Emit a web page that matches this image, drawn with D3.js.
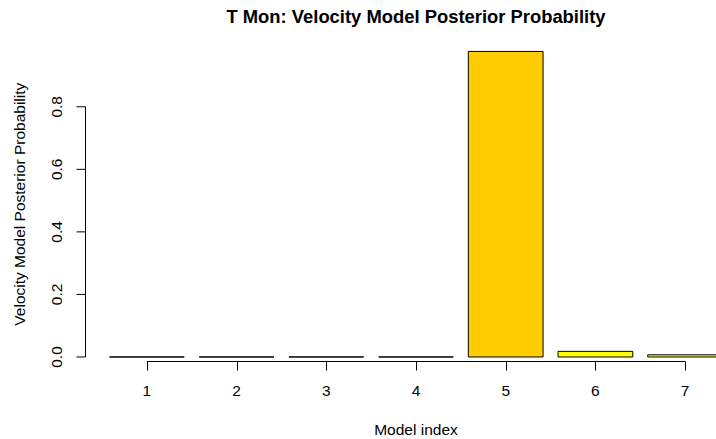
<!DOCTYPE html>
<html>
<head>
<meta charset="utf-8">
<script src="https://cdn.jsdelivr.net/npm/d3@7"></script>
<style>
  html, body { margin: 0; padding: 0; background: #fff; }
  svg { display: block; font-family: "Liberation Sans", Arial, Helvetica, sans-serif; }
</style>
</head>
<body>
<svg id="chart" width="716" height="439"></svg>
<script>
// Posterior probability of each velocity model for T Mon
const models = [1, 2, 3, 4, 5, 6, 7];
const probabilities = [0, 0, 0, 0, 0.977, 0.018, 0.007];
const barColors = ["#FFFFBF", "#FFFFBF", "#FFFFBF", "#FFFFBF", "#FFCC00", "#FFFF00", "#FFFF40"];
const yTicks = [0, 0.2, 0.4, 0.6, 0.8];

const title = "T Mon: Velocity Model Posterior Probability";
const xTitle = "Model index";
const yTitle = "Velocity Model Posterior Probability";

const svg = d3.select("#chart");

// barplot layout: bar width 1, a 0.2 gap before each bar, 4% padding around the bar span
const barWidth = 1, gap = 0.2;
const left = i => gap + i * (barWidth + gap);
const center = i => left(i) + barWidth / 2;
const xLo = left(0), xHi = left(models.length - 1) + barWidth;
const xPad = (xHi - xLo) * 0.04;
const yMaxData = d3.max(probabilities);
const yPad = yMaxData * 0.04;

const x = d3.scaleLinear().domain([xLo - xPad, xHi + xPad]).range([85, 747]);
const y = d3.scaleLinear().domain([-yPad, yMaxData + yPad]).range([369.2, 39.2]);

const labelSize = 15.5;
const titleSize = 18.4;

// bars (outlined paths so zero-height bars still show their edge)
svg.append("g")
  .selectAll("path")
  .data(probabilities)
  .join("path")
  .attr("d", (d, i) => {
    const x0 = x(left(i)), x1 = x(left(i) + barWidth);
    const y0 = y(0), y1 = y(d);
    return `M${x0},${y0}H${x1}V${y1}H${x0}Z`;
  })
  .attr("fill", (d, i) => barColors[i])
  .attr("stroke", "#000")
  .attr("stroke-width", 1);

// x axis: ticks at bar centres, line from first to last centre
const xAxisY = 361.5;
const xg = svg.append("g").attr("transform", `translate(0,${xAxisY})`);
xg.append("line")
  .attr("x1", x(center(0))).attr("x2", x(center(models.length - 1)))
  .attr("stroke", "#000");
xg.selectAll("line.tick")
  .data(models)
  .join("line")
  .attr("class", "tick")
  .attr("x1", (d, i) => Math.round(x(center(i))) + 0.5)
  .attr("x2", (d, i) => Math.round(x(center(i))) + 0.5)
  .attr("y1", 0).attr("y2", 9)
  .attr("stroke", "#000");
xg.selectAll("text")
  .data(models)
  .join("text")
  .attr("x", (d, i) => x(center(i)))
  .attr("y", 34.5)
  .attr("text-anchor", "middle")
  .attr("font-size", labelSize)
  .text(d => d);

// y axis: line spans only the tick range
const yg = svg.append("g").attr("transform", "translate(85.5,0)");
yg.append("line")
  .attr("y1", y(yTicks[0])).attr("y2", y(yTicks[yTicks.length - 1]))
  .attr("stroke", "#000");
const fmt = d3.format(".1f");
const yt = yg.selectAll("g.tick")
  .data(yTicks)
  .join("g")
  .attr("class", "tick")
  .attr("transform", d => `translate(0,${y(d)})`);
yt.append("line").attr("x1", 0).attr("x2", -9).attr("stroke", "#000");
yt.append("text")
  .attr("transform", "translate(-23.5,0) rotate(-90)")
  .attr("text-anchor", "middle")
  .attr("font-size", labelSize)
  .text(fmt);

// titles
const plotMidX = (x.range()[0] + x.range()[1]) / 2;
const plotMidY = (y.range()[0] + y.range()[1]) / 2;

svg.append("text")
  .attr("x", plotMidX).attr("y", 23)
  .attr("text-anchor", "middle")
  .attr("font-size", titleSize)
  .attr("font-weight", "bold")
  .text(title);

svg.append("text")
  .attr("x", plotMidX).attr("y", 435)
  .attr("text-anchor", "middle")
  .attr("font-size", labelSize)
  .text(xTitle);

svg.append("text")
  .attr("transform", `translate(24.5,${plotMidY}) rotate(-90)`)
  .attr("text-anchor", "middle")
  .attr("font-size", labelSize)
  .text(yTitle);
</script>
</body>
</html>
